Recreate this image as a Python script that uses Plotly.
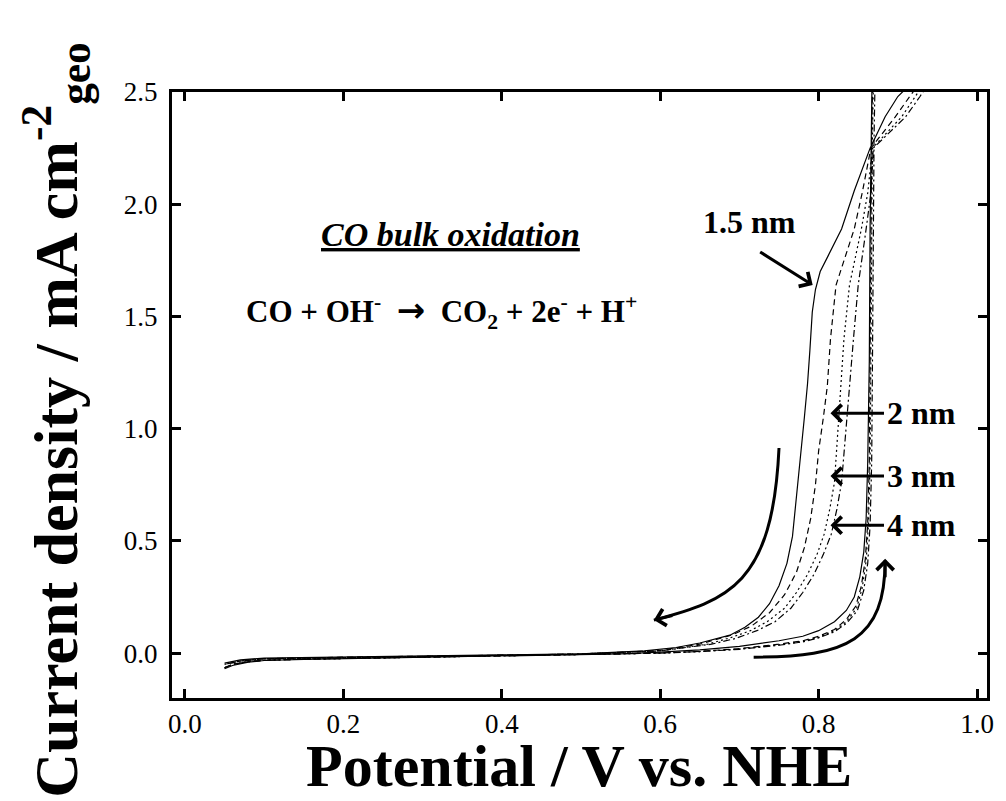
import plotly.graph_objects as go

# ---------------- data ----------------
# forward (positive-going) scans
fwd_x_15 = [0.05, 0.06, 0.08, 0.10, 0.15, 0.20, 0.30, 0.40, 0.50, 0.55, 0.60, 0.65, 0.70, 0.75, 0.78, 0.80, 0.82, 0.835, 0.845, 0.852, 0.857, 0.860, 0.862, 0.864, 0.865, 0.866, 0.868]
fwd_y_15 = [-0.07, -0.055, -0.04, -0.033, -0.028, -0.025, -0.02, -0.015, -0.008, -0.003, 0.004, 0.014, 0.03, 0.055, 0.075, 0.10, 0.14, 0.19, 0.25, 0.34, 0.45, 0.60, 0.85, 1.30, 1.90, 2.30, 2.70]

fwd_x_2 = [0.05, 0.06, 0.08, 0.10, 0.15, 0.20, 0.30, 0.40, 0.50, 0.55, 0.60, 0.65, 0.70, 0.75, 0.78, 0.80, 0.82, 0.835, 0.847, 0.854, 0.859, 0.862, 0.864, 0.865, 0.866, 0.867, 0.869]
fwd_y_2 = [-0.065, -0.05, -0.038, -0.032, -0.027, -0.024, -0.02, -0.015, -0.009, -0.005, 0.0, 0.008, 0.02, 0.04, 0.055, 0.075, 0.105, 0.15, 0.21, 0.30, 0.42, 0.58, 0.85, 1.30, 1.90, 2.30, 2.70]

fwd_x_3 = [0.05, 0.06, 0.08, 0.10, 0.15, 0.20, 0.30, 0.40, 0.50, 0.55, 0.60, 0.65, 0.70, 0.75, 0.78, 0.80, 0.82, 0.835, 0.848, 0.855, 0.860, 0.863, 0.865, 0.866, 0.867, 0.868, 0.870]
fwd_y_3 = [-0.065, -0.05, -0.038, -0.032, -0.027, -0.024, -0.02, -0.015, -0.009, -0.005, 0.0, 0.007, 0.018, 0.037, 0.052, 0.07, 0.10, 0.14, 0.20, 0.29, 0.41, 0.58, 0.85, 1.30, 1.90, 2.30, 2.70]

fwd_x_4 = [0.05, 0.06, 0.08, 0.10, 0.15, 0.20, 0.30, 0.40, 0.50, 0.55, 0.60, 0.65, 0.70, 0.75, 0.78, 0.80, 0.82, 0.836, 0.849, 0.857, 0.862, 0.865, 0.867, 0.868, 0.869, 0.870, 0.872]
fwd_y_4 = [-0.065, -0.05, -0.038, -0.032, -0.027, -0.024, -0.02, -0.015, -0.009, -0.005, 0.0, 0.007, 0.017, 0.035, 0.05, 0.068, 0.095, 0.135, 0.19, 0.28, 0.40, 0.57, 0.85, 1.30, 1.90, 2.30, 2.70]

# backward (negative-going) scans
bwd_x_15 = [0.935, 0.900, 0.884, 0.865, 0.845, 0.829, 0.812, 0.802, 0.796, 0.792, 0.789, 0.786, 0.782, 0.778, 0.773, 0.767, 0.760, 0.750, 0.738, 0.724, 0.707, 0.688, 0.650, 0.620, 0.580, 0.50, 0.40, 0.30, 0.20, 0.10, 0.07, 0.05]
bwd_y_15 = [2.60, 2.48, 2.39, 2.25, 2.06, 1.89, 1.77, 1.70, 1.62, 1.52, 1.35, 1.20, 1.05, 0.90, 0.72, 0.52, 0.40, 0.30, 0.22, 0.16, 0.115, 0.08, 0.045, 0.025, 0.01, -0.003, -0.008, -0.012, -0.017, -0.022, -0.03, -0.045]

bwd_x_2 = [0.940, 0.915, 0.897, 0.866, 0.855, 0.845, 0.833, 0.822, 0.815, 0.811, 0.806, 0.800, 0.796, 0.790, 0.782, 0.772, 0.757, 0.738, 0.715, 0.690, 0.650, 0.600, 0.50, 0.40, 0.30, 0.20, 0.10, 0.07, 0.05]
bwd_y_2 = [2.60, 2.48, 2.39, 2.25, 2.05, 1.89, 1.76, 1.64, 1.40, 1.19, 1.05, 0.90, 0.75, 0.60, 0.47, 0.36, 0.26, 0.18, 0.12, 0.08, 0.04, 0.012, -0.004, -0.01, -0.014, -0.018, -0.025, -0.035, -0.05]

bwd_x_3 = [0.945, 0.922, 0.905, 0.868, 0.862, 0.854, 0.846, 0.839, 0.832, 0.828, 0.824, 0.820, 0.814, 0.807, 0.798, 0.786, 0.772, 0.757, 0.735, 0.714, 0.690, 0.660, 0.600, 0.50, 0.40, 0.30, 0.20, 0.10, 0.07, 0.05]
bwd_y_3 = [2.60, 2.48, 2.39, 2.25, 2.05, 1.89, 1.76, 1.64, 1.40, 1.19, 0.95, 0.76, 0.64, 0.53, 0.44, 0.35, 0.27, 0.20, 0.14, 0.10, 0.07, 0.04, 0.01, -0.004, -0.01, -0.014, -0.018, -0.025, -0.035, -0.05]

bwd_x_4 = [0.950, 0.928, 0.910, 0.869, 0.866, 0.860, 0.855, 0.850, 0.844, 0.839, 0.834, 0.829, 0.823, 0.816, 0.806, 0.794, 0.780, 0.765, 0.745, 0.722, 0.695, 0.665, 0.600, 0.50, 0.40, 0.30, 0.20, 0.10, 0.07, 0.05]
bwd_y_4 = [2.60, 2.48, 2.39, 2.25, 2.05, 1.89, 1.76, 1.64, 1.40, 1.19, 0.95, 0.76, 0.64, 0.53, 0.44, 0.35, 0.27, 0.20, 0.14, 0.10, 0.065, 0.04, 0.01, -0.004, -0.01, -0.014, -0.018, -0.025, -0.035, -0.05]

sizes = ["1.5 nm", "2 nm", "3 nm", "4 nm"]
x_ticks = [0.0, 0.2, 0.4, 0.6, 0.8, 1.0]
y_ticks = [0.0, 0.5, 1.0, 1.5, 2.0, 2.5]

series = [
    (fwd_x_15 + bwd_x_15, fwd_y_15 + bwd_y_15, "solid"),
    (fwd_x_2 + bwd_x_2, fwd_y_2 + bwd_y_2, "6px,4px"),
    (fwd_x_3 + bwd_x_3, fwd_y_3 + bwd_y_3, "2px,3px"),
    (fwd_x_4 + bwd_x_4, fwd_y_4 + bwd_y_4, "7px,3px,2px,3px"),
]

SERIF = "Liberation Serif, Times New Roman, serif"

fig = go.Figure()
for (xs, ys, dash), name in zip(series, sizes):
    fig.add_trace(go.Scatter(x=xs, y=ys, mode="lines", name=name,
                             line=dict(color="black", width=1.2, dash=dash),
                             showlegend=False))

axis_common = dict(
    showline=True, linecolor="black", linewidth=3, mirror="ticks",
    ticks="inside", ticklen=9, tickwidth=2.5, tickcolor="black",
    showgrid=False, zeroline=False,
    tickfont=dict(family=SERIF, size=27, color="black"),
    tickformat=".1f",
)
fig.update_xaxes(range=[-0.0164, 1.0126], tickvals=x_ticks, ticklabelstandoff=0, **axis_common)
fig.update_yaxes(range=[-0.2, 2.5001], tickvals=y_ticks, ticklabelstandoff=6, **axis_common)

# curved scan-direction arrows
fig.add_shape(type="path", xref="x", yref="y",
              path="M 0.750,0.914 C 0.742,0.303 0.686,0.236 0.592,0.147",
              line=dict(color="black", width=3))
fig.add_shape(type="path", xref="x", yref="y",
              path="M 0.718,-0.018 C 0.836,-0.018 0.884,0.058 0.884,0.414",
              line=dict(color="black", width=3))

ann = []
arrow = dict(showarrow=True, arrowhead=4, arrowsize=1.1, arrowwidth=3, arrowcolor="black", text="")
ann.append(dict(x=0.592, y=0.147, ax=20, ay=-5, **arrow))
ann.append(dict(x=0.884, y=0.42, ax=0, ay=20, **arrow))
ann.append(dict(x=0.7925, y=1.64, ax=-54, ay=-34, **arrow))
for yv in [1.069, 0.789, 0.570]:
    ann.append(dict(x=0.815, y=yv, ax=55, ay=0, **arrow))

lab_font = dict(family=SERIF, size=32, color="black")
ann.append(dict(x=0.713, y=1.921, text="<b>1.5 nm</b>", showarrow=False, font=lab_font))
for lab, yv in zip(sizes[1:], [1.069, 0.789, 0.570]):
    ann.append(dict(x=0.93, y=yv, text="<b>%s</b>" % lab, showarrow=False, font=lab_font))

ann.append(dict(x=0.3346, y=1.867, text="<b><i><u>CO bulk oxidation</u></i></b>", showarrow=False,
                font=dict(family=SERIF, size=34, color="black")))
NB = "\u00a0"
ann.append(dict(x=0.324, y=1.52,
                text=("<b>CO + OH<sup>-</sup>" + NB + NB +
                      "<span style='font-family:DejaVu Sans;font-size:34px'>→</span>" + NB + NB +
                      "CO<sub>2</sub> + 2e<sup>-</sup> + H<sup>+</sup></b>"),
                showarrow=False, font=dict(family=SERIF, size=31, color="black")))

# axis titles
ann.append(dict(xref="paper", yref="paper", x=0.499, y=-0.112, xanchor="center", yanchor="middle",
                text="<b>Potential / V vs. NHE</b>", showarrow=False,
                font=dict(family=SERIF, size=60, color="black")))
ann.append(dict(xref="paper", yref="paper", x=-0.143, y=0.46, xanchor="center", yanchor="middle",
                textangle=-90, text="<b>Current density / mA cm<sup>-2</sup><sub>geo</sub></b>",
                showarrow=False, font=dict(family=SERIF, size=62, color="black")))

fig.update_layout(
    width=1006, height=801,
    margin=dict(l=172, r=16, t=92, b=103),
    paper_bgcolor="white", plot_bgcolor="white",
    annotations=ann,
    showlegend=False,
)

fig.write_html("out.html")
